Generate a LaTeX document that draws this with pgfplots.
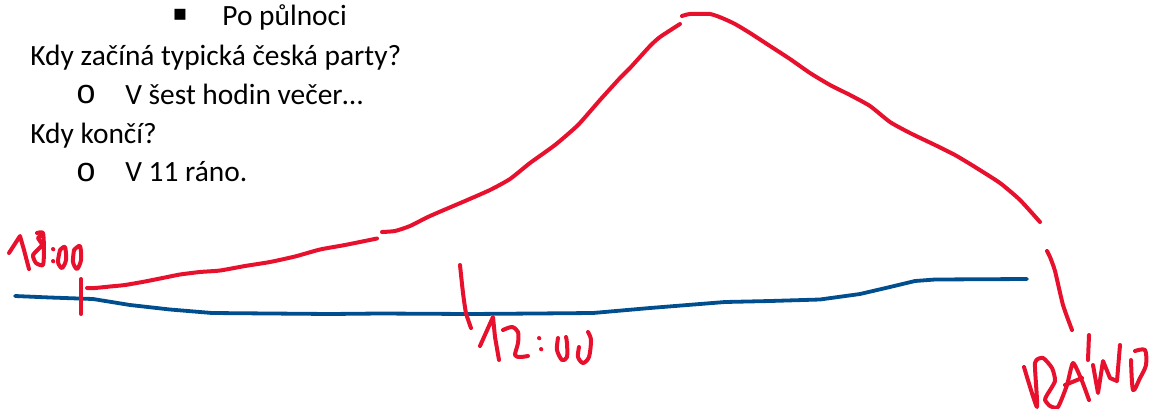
\documentclass[border=0pt]{standalone}
\usepackage{fontspec}
\usepackage{pgfplots}
\pgfplotsset{compat=1.18}
\setmainfont{Carlito}
\newfontfamily\monof{Liberation Mono}
\newfontfamily\symf{DejaVu Sans}
\definecolor{inkred}{HTML}{E8112D}
\definecolor{inkblue}{HTML}{004E8E}
\newcommand{\txt}{\fontsize{14.7pt}{17pt}\selectfont}
\begin{document}
\begin{tikzpicture}
\useasboundingbox (0,0) rectangle (576pt,204pt);
\begin{axis}[
  at={(0,0)}, anchor=south west,
  scale only axis, width=576pt, height=204pt,
  xmin=0, xmax=1152, ymin=0, ymax=408, y dir=reverse,
  hide axis, clip=false,
  every axis plot/.append style={line cap=round, line join=round},
  ink/.style={inkred, line width=2pt, no marks},
  soft/.style={ink, smooth, tension=0.35},
]
% blue line
\addplot[inkblue, line width=1.9pt, no marks] coordinates {(15,296)(50,297.5)(93,299)(130,305)(170,309.5)(212,313)(270,313.5)(330,314)(380,313.5)(470,314)(535,313.5)(593,313)(650,308)(725,302)(770,301)(820,299.5)(860,294)(890,287)(915,281)(935,279.5)(1027,279)};
% red curve pieces
\addplot[soft] coordinates {(87,288)(95,288)(110,286.5)(125,285)(145,281.5)(165,277.5)(180,274.5)(200,272)(220,270.5)(245,266)(270,262)(295,256.5)(320,249.5)(345,245)(377,238.5)};
\addplot[soft] coordinates {(382,232)(395,231)(410,226)(430,216)(465,201)(490,190)(510,179)(530,163)(555,145)(578,125)(600,100)(620,78)(630,68)(650,46)(660,37)(680,24)};
\addplot[soft] coordinates {(682,16)(690,14)(710,14)(722,18)(735,24)(750,33)(770,46)(790,59)(810,73)(830,85)(850,95)(870,106)(890,122)(910,133)(935,145)(955,155)(975,167)(1000,183)(1020,200)(1040,222)};
\addplot[soft] coordinates {(1047,251)(1050,257)(1055,271)(1063,305)(1072,330)};
% ticks
\addplot[ink] coordinates {(81,279)(81,314)};
\addplot[soft] coordinates {(460,265)(463,293)(466,313)(471,328)};
% handwritten 18:00
\addplot[ink] coordinates {(9,253)(20,236)(24,250)(29,269)};
\addplot[soft] coordinates {(37,233)(43,233)(44,250)(43,265)(36,263)(33,255)(42,245)(38,238)(43,235)};
\addplot[ink] coordinates {(53,249)(53.3,249.3)};
\addplot[ink] coordinates {(53,261)(53.3,261.3)};
\addplot[ink, smooth] coordinates {(60,250)(58,262)(62,268)(66,260)(65,247)(60,250)};
\addplot[ink, smooth] coordinates {(74,250)(73,262)(77,269)(81,260)(80,246)(74,250)};
% handwritten 12:00
\addplot[ink] coordinates {(480,346)(493,317)(495,337)(499,360)};
\addplot[ink, smooth] coordinates {(503,330)(512,327)(518,332)(518,343)(515,355)(520,357)(528,356)};
\addplot[ink] coordinates {(539,338)(539.3,338.3)};
\addplot[ink] coordinates {(541,349)(541.3,349.3)};
\addplot[ink, smooth] coordinates {(558,338)(557,350)(562,360)(567,357)(567,343)(566,337)};
\addplot[ink, smooth] coordinates {(579,347)(578,357)(583,363)(589,357)(591,340)(588,332)};
% handwritten VRANO
\addplot[soft] coordinates {(1024,367)(1037,407)(1035,363)(1043,358)(1052,368)(1055,381)(1047,395)(1045,400)(1050,406)(1058,407)(1067,385)(1073,363)(1082,381)(1089,400)};
\addplot[ink] coordinates {(1065,385)(1082,378)};
\addplot[ink] coordinates {(1089,335)(1088,360)};
\addplot[ink] coordinates {(1093,365)(1098,393)(1103,361)(1110,378)(1117,381)(1120,345)};
\addplot[ink, smooth] coordinates {(1131,360)(1133,390)(1140,378)(1146,365)(1145,350)(1135,351)};
% text
\node[anchor=base west, inner sep=0pt, font=\txt] at (axis cs:222,25) {Po půlnoci};
\node[anchor=base west, inner sep=0pt, font=\txt] at (axis cs:30,65) {Kdy začíná typická česká party?};
\node[anchor=base west, inner sep=0pt, font=\txt] at (axis cs:125,104) {V šest hodin večer…};
\node[anchor=base west, inner sep=0pt, font=\txt] at (axis cs:30,143) {Kdy končí?};
\node[anchor=base west, inner sep=0pt, font=\txt] at (axis cs:125,181) {V 11 ráno.};
\node[anchor=base, inner sep=0pt, font=\fontsize{17pt}{19pt}\selectfont\monof] at (axis cs:86,103) {o};
\node[anchor=base, inner sep=0pt, font=\fontsize{17pt}{19pt}\selectfont\monof] at (axis cs:86,181) {o};
\node[anchor=base, inner sep=0pt, font=\fontsize{11pt}{12pt}\selectfont\symf] at (axis cs:180,20) {▪};
\end{axis}
\end{tikzpicture}
\end{document}
